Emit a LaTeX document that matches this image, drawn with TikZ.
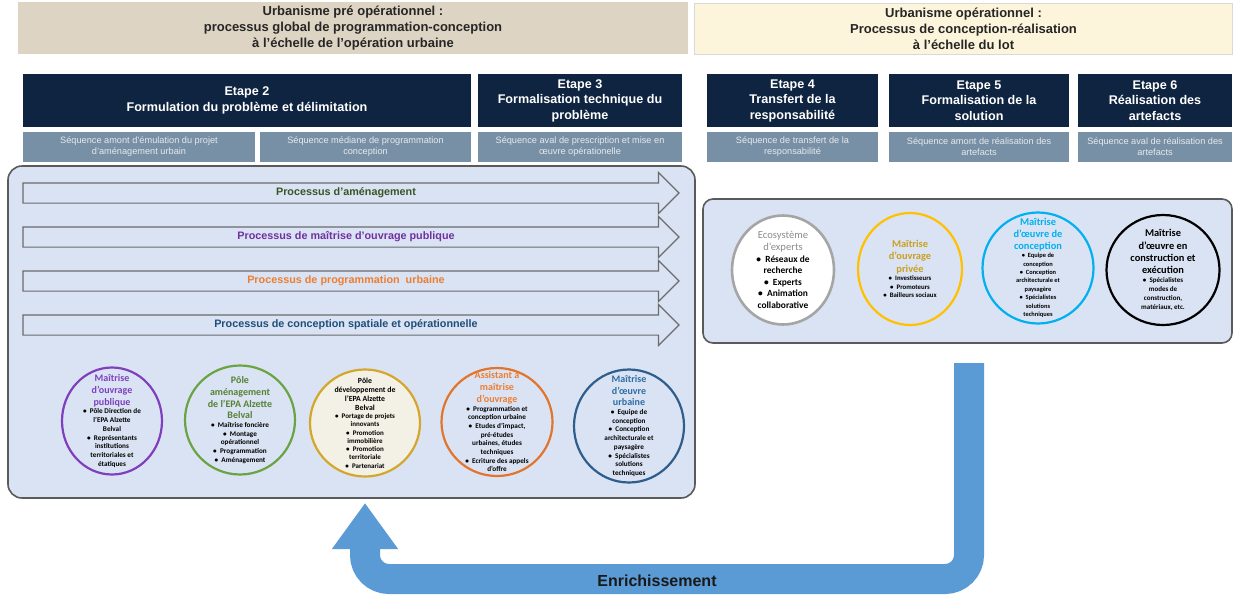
\documentclass[tikz,border=0pt]{standalone}
\usepackage{fontspec}
\setmainfont{Liberation Sans}
\newfontfamily\calfont{Carlito}
\usepackage{xcolor}
\usepackage{tikz}
\usetikzlibrary{arrows.meta, positioning, calc, shapes.geometric, shapes.arrows}

\definecolor{hdrsand}{HTML}{DED4C3}
\definecolor{hdrcream}{HTML}{FDF5DB}
\definecolor{etapeblue}{HTML}{0E2440}
\definecolor{seqgray}{HTML}{7890A5}
\definecolor{seqtext}{HTML}{E4E9EE}
\definecolor{panelblue}{HTML}{DAE3F3}
\definecolor{panelline}{HTML}{5A5A5A}
\definecolor{arrowline}{HTML}{6B6B6B}
\definecolor{procgreen}{HTML}{375623}
\definecolor{procpurple}{HTML}{7030A0}
\definecolor{procorange}{HTML}{ED7D31}
\definecolor{procblue}{HTML}{1F4E79}
\definecolor{moapurple}{HTML}{7F3FBF}
\definecolor{polegreen}{HTML}{6AA343}
\definecolor{polegreentxt}{HTML}{548235}
\definecolor{polegold}{HTML}{D4A72C}
\definecolor{polefill}{HTML}{F3F1E6}
\definecolor{amoorange}{HTML}{E2742B}
\definecolor{moeblue}{HTML}{2F5D8C}
\definecolor{moebluetxt}{HTML}{2E6DA4}
\definecolor{expgray}{HTML}{A5A5A5}
\definecolor{expgraytxt}{HTML}{8C8C8C}
\definecolor{privyellow}{HTML}{FFC000}
\definecolor{privtxt}{HTML}{C9A020}
\definecolor{conccyan}{HTML}{00B0F0}
\definecolor{enrichblue}{HTML}{5B9BD5}

\newcommand{\actTitle}{\fontsize{5pt}{5.85pt}\selectfont\bfseries}
\newcommand{\actItem}{\fontsize{3.6pt}{4.35pt}\selectfont\bfseries}
% title block and bullet block of an actor circle
\newcommand{\actorbox}[2]{\parbox{56pt}{\centering{#1\par}{#2\par}}}

\begin{document}
\begin{tikzpicture}[
  x=0.5pt, y=-0.5pt,
  phase/.style={align=center, inner sep=0pt, text=black!85, font=\fontsize{6.5pt}{8pt}\selectfont\bfseries},
  etape/.style={fill=etapeblue, text=white, align=center, inner sep=0pt, minimum height=26.5pt, font=\fontsize{6.3pt}{7.75pt}\selectfont\bfseries},
  sequence/.style={fill=seqgray, text=seqtext, align=center, inner sep=0pt, minimum height=15pt, font=\fontsize{4.6pt}{5.5pt}\selectfont},
  panel/.style={fill=panelblue, draw=panelline, line width=0.8pt, inner sep=0pt},
  process/.style={single arrow, single arrow head extend=5.25pt, fill=panelblue, draw=arrowline, line width=0.6pt, minimum height=328pt, text height=4pt, text depth=1.2pt, inner ysep=2.15pt, font=\fontsize{5.4pt}{6.5pt}\selectfont\bfseries},
  actor/.style={ellipse, line width=1.1pt, inner sep=0pt},
  actortext/.style={inner sep=0pt, font=\calfont},
  enrich/.style={-{Triangle[width=31.5pt,length=23pt]}, line width=15pt, draw=enrichblue, rounded corners=12pt},
  ]

  \fill[white] (0,0) rectangle (1234,595);
  \useasboundingbox (0,0) rectangle (1234,595);

  % Phase headers
  \node[phase, fill=hdrsand, minimum width=335pt, minimum height=26pt] (preOp) at (353,28) {Urbanisme pré opérationnel :\\processus global de programmation-conception\\à l’échelle de l’opération urbaine};
  \node[phase, fill=hdrcream, draw=black!15, line width=0.4pt, minimum width=269pt, minimum height=25.5pt] (op) at (963.5,28.5) {Urbanisme opérationnel :\\Processus de conception-réalisation\\à l’échelle du lot};

  % Etapes
  \node[etape, minimum width=224pt] (etapeDeux) at (247,100.5) {Etape 2\\Formulation du problème et délimitation};
  \node[etape, minimum width=102pt] (etapeTrois) at (580,100.5) {Etape 3\\Formalisation technique du\\problème};
  \node[etape, minimum width=85.5pt] (etapeQuatre) at (792.5,100.5) {Etape 4\\Transfert de la\\responsabilité};
  \node[etape, minimum width=90pt] (etapeCinq) at (979,100.5) {Etape 5\\Formalisation de la\\solution};
  \node[etape, minimum width=77pt] (etapeSix) at (1155,100.5) {Etape 6\\Réalisation des\\artefacts};

  % Sequences
  \node[sequence, below right=2pt and 0pt of etapeDeux.south west, minimum width=116pt] (seqAmont) {Séquence amont d’émulation du projet\\d’aménagement urbain};
  \node[sequence, below left=2pt and 0pt of etapeDeux.south east, minimum width=105.5pt] (seqMediane) {Séquence médiane de programmation\\conception};
  \node[sequence, below=2pt of etapeTrois, minimum width=102pt] (seqAval) {Séquence aval de prescription et mise en\\œuvre opérationelle};
  \node[sequence, below=2pt of etapeQuatre, minimum width=85.5pt] (seqTransfert) {Séquence de transfert de la\\responsabilité};
  \node[sequence, below=2pt of etapeCinq, minimum width=90pt] (seqRealAmont) {Séquence amont de réalisation des\\artefacts};
  \node[sequence, below=2pt of etapeSix, minimum width=77pt] (seqRealAval) {Séquence aval de réalisation des\\artefacts};

  % Panels
  \node[panel, rounded corners=7pt, minimum width=343.5pt, minimum height=166pt] (leftPanel) at (351.5,332) {};
  \node[panel, rounded corners=5pt, minimum width=264.5pt, minimum height=72pt] (rightPanel) at (967.5,271) {};

  % Processus
  \node[process, text=procgreen] (procAme) at (346,193) {Processus d’aménagement};
  \node[process, text=procpurple] (procMoa) at (346,237) {Processus de maîtrise d’ouvrage publique};
  \node[process, text=procorange] (procProg) at (346,281) {Processus de programmation\ \ urbaine};
  \node[process, text=procblue] (procConc) at (346,325) {Processus de conception spatiale et opérationnelle};

  % Acteurs pre operationnels
  \node[actor, draw=moapurple, minimum width=50pt, minimum height=53.5pt] (moaPub) at (112,421) {};
  \node[actortext] (moaPubTxt) at (moaPub) {\actorbox{\actTitle\color{moapurple}Maîtrise\\d’ouvrage\\publique}{\actItem •~~Pôle Direction de\\l’EPA Alzette\\Belval\\•~~Représentants\\institutions\\territoriales et\\étatiques}};

  \node[actor, draw=polegreen, minimum width=55pt, minimum height=54.5pt] (poleAme) at (240,420) {};
  \node[actortext] (poleAmeTxt) at (poleAme) {\actorbox{\actTitle\color{polegreentxt}Pôle\\aménagement\\de l’EPA Alzette\\Belval}{\actItem •~~Maîtrise foncière\\•~~Montage\\opérationnel\\•~~Programmation\\•~~Aménagement}};

  \node[actor, draw=polegold, fill=polefill, minimum width=55pt, minimum height=53.5pt] (poleDev) at (365,423) {};
  \node[actortext] (poleDevTxt) at (poleDev) {\actorbox{\fontsize{3.9pt}{4.5pt}\selectfont\bfseries Pôle\\développement de\\l’EPA Alzette\\Belval}{\fontsize{3.5pt}{4.15pt}\selectfont\bfseries •~~Portage de projets\\innovants\\•~~Promotion\\immobilière\\•~~Promotion\\territoriale\\•~~Partenariat}};

  \node[actor, draw=amoorange, minimum width=55.5pt, minimum height=54pt] (amo) at (497,422) {};
  \node[actortext] (amoTxt) at (amo) {\actorbox{\actTitle\color{procorange}Assistant à\\maîtrise\\d’ouvrage}{\actItem •~~Programmation et\\conception urbaine\\•~~Etudes d’impact,\\pré-études\\urbaines, études\\techniques\\•~~Ecriture des appels\\d’offre}};

  \node[actor, draw=moeblue, minimum width=55pt, minimum height=56.5pt] (moeUrb) at (629,426) {};
  \node[actortext] (moeUrbTxt) at (moeUrb) {\actorbox{\actTitle\color{moebluetxt}Maîtrise\\d’œuvre\\urbaine}{\actItem •~~Equipe de\\conception\\•~~Conception\\architecturale et\\paysagère\\•~~Spécialistes\\solutions\\techniques}};

  % Acteurs operationnels
  \node[actor, draw=expgray, fill=white, line width=1.3pt, minimum width=51pt, minimum height=54.5pt] (ecoExp) at (783,270) {};
  \node[actortext] (ecoExpTxt) at (ecoExp) {\actorbox{\fontsize{5.3pt}{6.15pt}\selectfont\color{expgraytxt}Ecosystème\\d’experts}{\fontsize{4.7pt}{5.75pt}\selectfont\bfseries •~~Réseaux de\\recherche\\•~~Experts\\•~~Animation\\collaborative}};

  \node[actor, draw=privyellow, minimum width=52pt, minimum height=56pt] (moaPriv) at (910,269) {};
  \node[actortext] (moaPrivTxt) at (moaPriv) {\actorbox{\fontsize{5.2pt}{6.15pt}\selectfont\bfseries\color{privtxt}Maîtrise\\d’ouvrage\\privée}{\fontsize{3.4pt}{4.25pt}\selectfont\bfseries •~~Investisseurs\\•~~Promoteurs\\•~~Bailleurs sociaux}};

  \node[actor, draw=conccyan, minimum width=55.5pt, minimum height=55.5pt] (moeConc) at (1038,268) {};
  \node[actortext] (moeConcTxt) at (moeConc) {\actorbox{\fontsize{5.2pt}{5.85pt}\selectfont\bfseries\color{conccyan}Maîtrise\\d’œuvre de\\conception}{\fontsize{3.2pt}{4.2pt}\selectfont\bfseries •~~Equipe de\\conception\\•~~Conception\\architecturale et\\paysagère\\•~~Spécialistes\\solutions\\techniques}};

  \node[actor, draw=black, minimum width=56.5pt, minimum height=55pt] (moeCons) at (1163,270) {};
  \node[actortext] (moeConsTxt) at (moeCons) {\actorbox{\fontsize{5.2pt}{6.15pt}\selectfont\bfseries Maîtrise\\d’œuvre en\\construction et\\exécution}{\fontsize{3.5pt}{4.5pt}\selectfont\bfseries •~~Spécialistes\\modes de\\construction,\\matériaux, etc.}};

  % Enrichissement
  \coordinate (enrStart) at (969,363);
  \coordinate (enrEnd) at (365,503);
  \draw[enrich] (enrStart) -- ++(0,216) -| (enrEnd);
  \node[font=\fontsize{8pt}{9pt}\selectfont\bfseries, text=black!90, inner sep=0pt] (enrLabel) at (657,581) {Enrichissement};

\end{tikzpicture}
\end{document}
